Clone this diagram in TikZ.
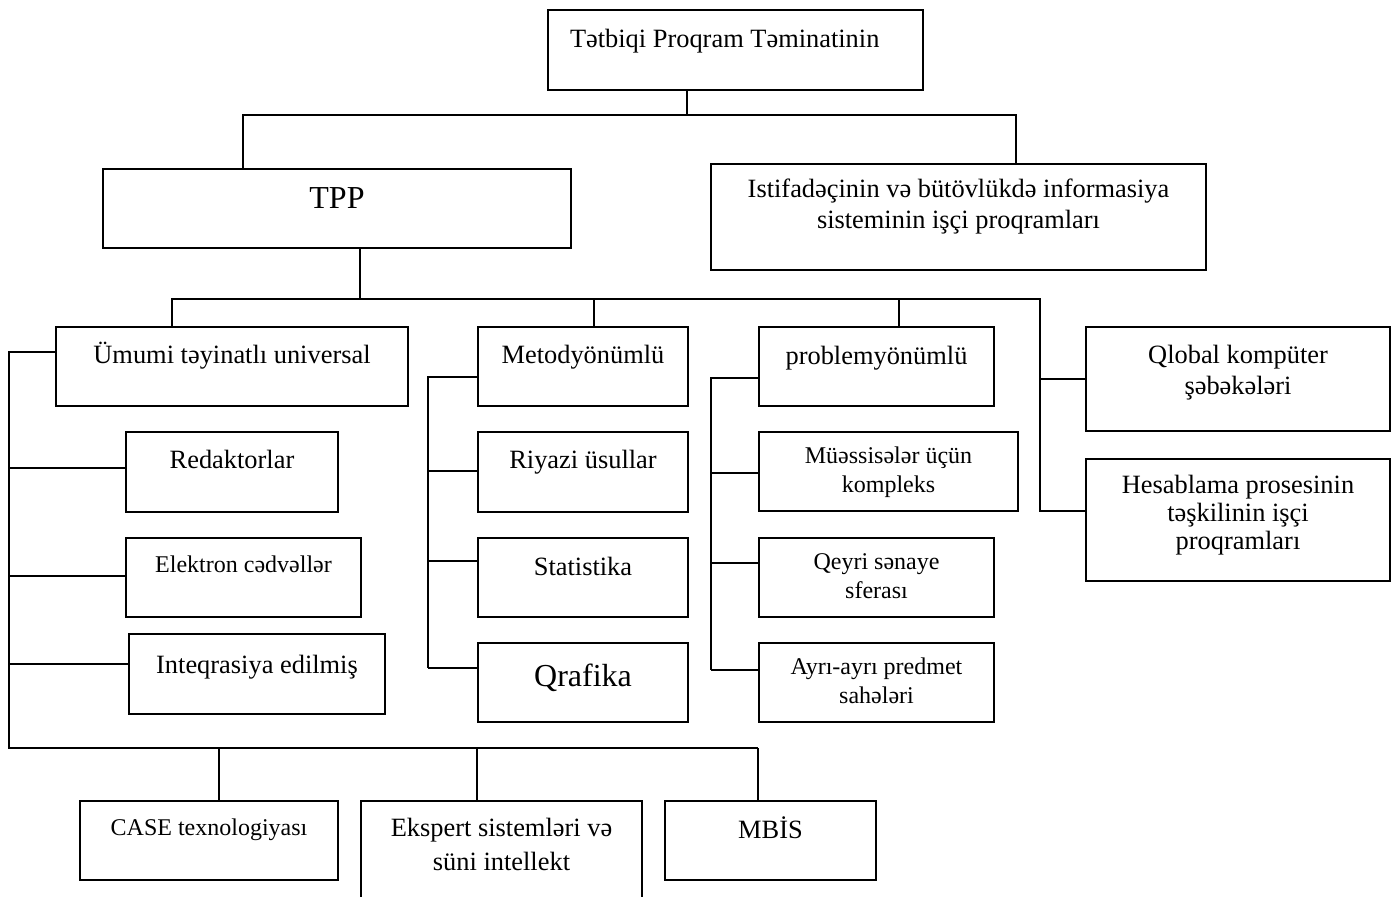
\documentclass[tikz,border=0pt]{standalone}
\usepackage{fontspec}
\setmainfont{Liberation Serif}
\newcommand{\stack}[1]{\begin{tabular}[t]{@{}c@{}}#1\end{tabular}}
\tikzset{
    box/.style={draw, line width=1pt, inner sep=0pt, anchor=north west,
      font=\fontsize{13.2}{15.5}\selectfont},
    sz/.style n args={3}{minimum width=#1pt, text height=#2pt, text depth=#3pt},
    small/.style={font=\fontsize{12}{14.5}\selectfont},
    big/.style={font=\fontsize{16}{19}\selectfont},
    link/.style={line width=1pt}
}
\begin{document}
\begin{tikzpicture}[x=0.5pt, y=-0.5pt]
    \useasboundingbox (0,0) rectangle (1397,897);
    \clip (0,0) rectangle (1397,897);
    % boxes
    \node [box, sz={187.5}{19}{21}, inner xsep=11pt] (tpt) at (547,9) {\makebox[165.5pt][l]{Tətbiqi Proqram Təminatinin}};
    \node [box, big, sz={234}{20}{19.5}] (tpp) at (102,168) {TPP};
    \node [box, sz={247.5}{17}{36}] (isp) at (710,163) {\stack{Istifadəçinin və bütövlükdə informasiya\\sisteminin işçi proqramları}};
    \node [box, sz={176}{18.5}{21}] (umumi) at (55,326) {Ümumi təyinatlı universal};
    \node [box, sz={105}{18.5}{21}] (metod) at (477,326) {Metodyönümlü};
    \node [box, sz={117.5}{19}{20.5}] (problem) at (758,326) {problemyönümlü};
    \node [box, sz={152}{18.5}{33.5}] (qlobal) at (1085,326) {\stack{Qlobal kompüter\\şəbəkələri}};
    \node [box, sz={152}{17.5}{43.5}, font=\fontsize{13.2}{14}\selectfont] (hesab) at (1085,458) {\stack{Hesablama prosesinin\\təşkilinin işçi\\proqramları}};
    \node [box, sz={106}{18.5}{21.5}] (redakt) at (125,431) {Redaktorlar};
    \node [box, small, sz={117.5}{17.5}{22}] (elektron) at (125,537) {Elektron cədvəllər};
    \node [box, sz={128}{19.5}{20.5}] (inteq) at (128,633) {Inteqrasiya edilmiş};
    \node [box, sz={105}{18.5}{21.5}] (riyazi) at (477,431) {Riyazi üsullar};
    \node [box, sz={105}{18.5}{21}] (stat) at (477,537) {Statistika};
    \node [box, big, sz={105}{21.5}{18}] (qrafika) at (477,642) {Qrafika};
    \node [box, small, sz={129.5}{16}{23.5}] (muess) at (758,431) {\stack{Müəssisələr üçün\\kompleks}};
    \node [box, small, sz={117.5}{15.5}{24}] (qeyri) at (758,537) {\stack{Qeyri sənaye\\sferası}};
    \node [box, small, sz={117.5}{15.5}{24}] (ayri) at (758,642) {\stack{Ayrı-ayrı predmet\\sahələri}};
    \node [box, small, sz={129}{17}{22.5}] (case) at (79,800) {CASE texnologiyası};
    \node [box, sz={140.5}{17.5}{47.5}, font=\fontsize{13.2}{17}\selectfont] (ekspert) at (360,800) {\stack{Ekspert sistemləri və\\süni intellekt}};
    \node [box, sz={105.5}{18.5}{21}] (mbis) at (664,800) {MBİS};
    % junctions
    \coordinate (tl) at (243,115);
    \coordinate (tm) at (687,115);
    \coordinate (tr) at (1016,115);
    \coordinate (ml) at (172,299);
    \coordinate (m1) at (360,299);
    \coordinate (m2) at (594,299);
    \coordinate (m3) at (899,299);
    \coordinate (mr) at (1040,299);
    \coordinate (q1) at (1040,379);
    \coordinate (q2) at (1040,511);
    \coordinate (u0) at (9,352);
    \coordinate (u1) at (9,468);
    \coordinate (u2) at (9,576);
    \coordinate (u3) at (9,664);
    \coordinate (u4) at (9,748);
    \coordinate (d1) at (219,748);
    \coordinate (d2) at (477,748);
    \coordinate (d3) at (758,748);
    \coordinate (k0) at (428,377);
    \coordinate (k1) at (428,471);
    \coordinate (k2) at (428,561);
    \coordinate (k3) at (428,668);
    \coordinate (p0) at (711,378);
    \coordinate (p1) at (711,473);
    \coordinate (p2) at (711,563);
    \coordinate (p3) at (711,670);
    % top level
    \draw [link] (tpt.south -| tm) -- (tm);
    \draw [link] (tpp.north -| tl) -- (tl) -- (tr) -- (isp.north -| tr);
    % second level
    \draw [link] (tpp.south -| m1) -- (m1);
    \draw [link] (umumi.north -| ml) -- (ml) -- (mr) -- (q2) -- (hesab.west |- q2);
    \draw [link] (q1) -- (qlobal.west |- q1);
    \draw [link] (m2) -- (metod.north -| m2);
    \draw [link] (m3) -- (problem.north -| m3);
    % left group
    \draw [link] (umumi.west |- u0) -- (u0) -- (u4) -- (d3);
    \foreach \c/\n in {u1/redakt, u2/elektron, u3/inteq}
        \draw [link] (\c) -- (\n.west |- \c);
    \foreach \c/\n in {d1/case, d2/ekspert, d3/mbis}
        \draw [link] (\c) -- (\n.north -| \c);
    % method group
    \draw [link] (metod.west |- k0) -- (k0) -- (k3);
    \foreach \c/\n in {k1/riyazi, k2/stat, k3/qrafika}
        \draw [link] (\c) -- (\n.west |- \c);
    % problem group
    \draw [link] (problem.west |- p0) -- (p0) -- (p3);
    \foreach \c/\n in {p1/muess, p2/qeyri, p3/ayri}
        \draw [link] (\c) -- (\n.west |- \c);
\end{tikzpicture}
\end{document}
